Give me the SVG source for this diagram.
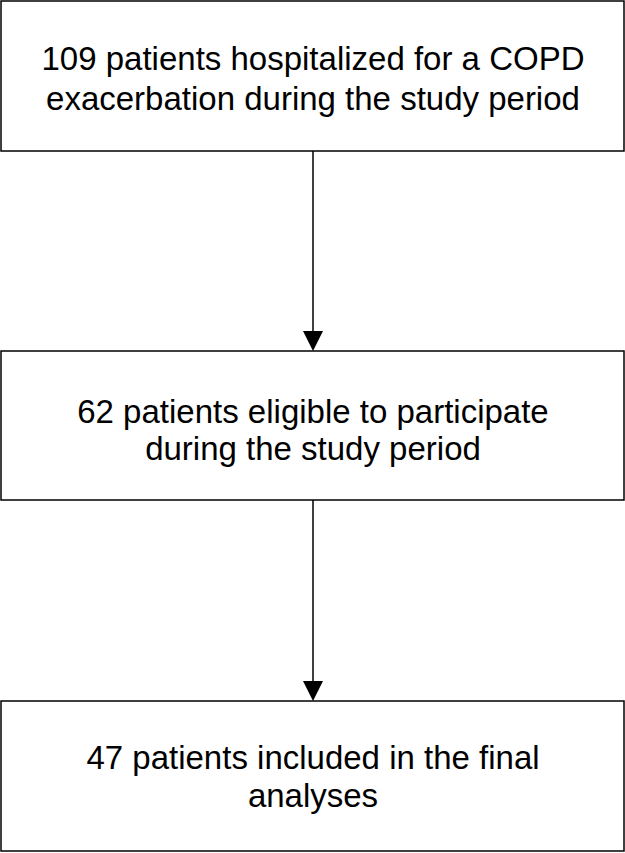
<svg xmlns="http://www.w3.org/2000/svg" width="625" height="853" viewBox="0 0 625 853">
<style>
.box{fill:#fff;stroke:#000;stroke-width:1.5}
.t{font-family:"Liberation Sans",Arial,sans-serif;font-size:33px;fill:#000;text-anchor:middle}
.c{stroke:#000;stroke-width:1.5;fill:none}
</style>
<rect width="625" height="853" fill="#fff"/>
<g id="n1"><rect class="box" x="1" y="1" width="623" height="150"/>
<text class="t" x="313" y="70">109 patients hospitalized for a COPD</text>
<text class="t" x="313" y="110">exacerbation during the study period</text></g>
<g id="n2"><rect class="box" x="1" y="351" width="623" height="149"/>
<text class="t" x="313" y="423">62 patients eligible to participate</text>
<text class="t" x="313" y="460">during the study period</text></g>
<g id="n3"><rect class="box" x="1" y="701" width="623" height="150"/>
<text class="t" x="313" y="769">47 patients included in the final</text>
<text class="t" x="313" y="807">analyses</text></g>
<g id="connectors">
<line class="c" x1="313" y1="151" x2="313" y2="333"/>
<path d="M303,331 L323,331 L313,351 Z" fill="#000"/>
<line class="c" x1="313" y1="500" x2="313" y2="683"/>
<path d="M303,681 L323,681 L313,701 Z" fill="#000"/>
</g>
</svg>
